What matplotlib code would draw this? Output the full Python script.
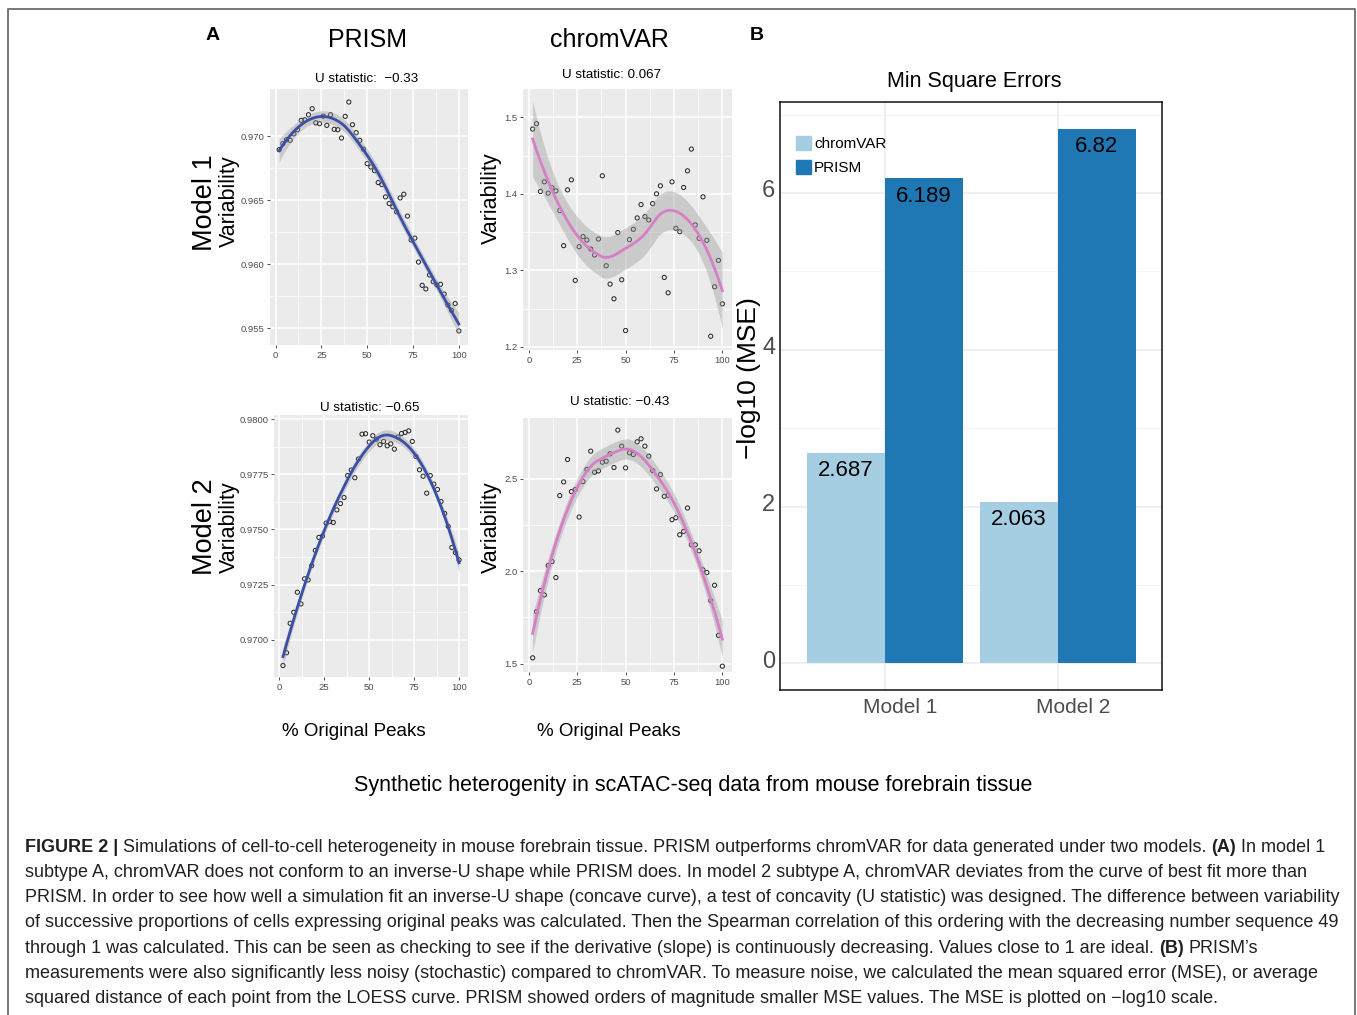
import numpy as np
import matplotlib
matplotlib.use('Agg')
from matplotlib import pyplot as plt
from matplotlib import ticker
from matplotlib.patches import Patch
from matplotlib.transforms import ScaledTranslation

# % original peaks (x) shared by all four simulation panels
pct = list(range(2, 101, 2))

prism_m1 = [0.96896, 0.96943, 0.96974, 0.96969, 0.97020, 0.97052, 0.97125, 0.97130,
            0.97169, 0.97216, 0.97106, 0.97099, 0.97158, 0.97086, 0.97169, 0.97055,
            0.97052, 0.96987, 0.97156, 0.97268, 0.97091, 0.97029, 0.96969, 0.96900,
            0.96787, 0.96761, 0.96732, 0.96639, 0.96623, 0.96527, 0.96475, 0.96450,
            0.96410, 0.96519, 0.96548, 0.96377, 0.96190, 0.96205, 0.96018, 0.95836,
            0.95808, 0.95917, 0.95865, 0.95839, 0.95844, 0.95768, 0.95683, 0.95640,
            0.95694, 0.95480]

chromvar_m1 = [1.4847, 1.4917, 1.4031, 1.4157, 1.4009, 1.4080, 1.4039, 1.3782,
               1.3323, 1.4052, 1.4183, 1.2869, 1.3310, 1.3441, 1.3397, 1.3279,
               1.3201, 1.3410, 1.4236, 1.3061, 1.2821, 1.2629, 1.3494, 1.2878,
               1.2214, 1.3402, 1.3537, 1.3686, 1.3860, 1.3703, 1.3659, 1.3873,
               1.4000, 1.4105, 1.2908, 1.2707, 1.4157, 1.3550, 1.3506, 1.4083,
               1.4301, 1.4585, 1.3594, 1.3419, 1.3961, 1.3393, 1.2140, 1.2786,
               1.3131, 1.2563]

prism_m2 = [0.96882, 0.96940, 0.97074, 0.97124, 0.97215, 0.97162, 0.97276, 0.97271,
            0.97336, 0.97405, 0.97464, 0.97470, 0.97529, 0.97536, 0.97532, 0.97589,
            0.97618, 0.97645, 0.97745, 0.97770, 0.97735, 0.97820, 0.97933, 0.97935,
            0.97897, 0.97926, 0.97910, 0.97885, 0.97900, 0.97880, 0.97889, 0.97865,
            0.97920, 0.97936, 0.97941, 0.97948, 0.97900, 0.97832, 0.97771, 0.97742,
            0.97665, 0.97745, 0.97706, 0.97682, 0.97627, 0.97573, 0.97514, 0.97418,
            0.97395, 0.97362]

chromvar_m2 = [1.5308, 1.7808, 1.8950, 1.8714, 2.0308, 2.0525, 1.9656, 2.4094,
               2.4837, 2.6050, 2.4312, 2.4420, 2.2935, 2.4855, 2.5507, 2.6504,
               2.5362, 2.5435, 2.5906, 2.5960, 2.6360, 2.5616, 2.7645, 2.6775,
               2.5598, 2.6413, 2.6322, 2.7011, 2.7174, 2.6775, 2.6232, 2.5453,
               2.4457, 2.5236, 2.4058, 2.4112, 2.2790, 2.2899, 2.1975, 2.2156,
               2.3424, 2.1431, 2.1431, 2.1105, 2.0072, 1.9928, 1.8406, 1.9240,
               1.6522, 1.4855]

# panel B
models = ['Model 1', 'Model 2']
mse_chromvar = [2.687, 2.063]
mse_prism = [6.189, 6.82]

W, H = 1357, 1015
plt.rcParams['font.family'] = ['Liberation Sans', 'DejaVu Sans']


def fx(x):
    return x / W


def fy(y):
    return 1 - y / H


def box(l, t, r, b):
    return [fx(l), fy(b), (r - l) / W, (b - t) / H]


def loess(x, y, span=0.75, n_out=100):
    # local quadratic fit with tricube weights, like R's loess default
    x = np.asarray(x, float)
    y = np.asarray(y, float)
    n = len(x)
    q = int(np.floor(n * span))

    def rows(x0s):
        out = []
        for x0 in x0s:
            d = np.abs(x - x0)
            h = np.sort(d)[q - 1]
            w = np.clip(1 - (d / h) ** 3, 0, None) ** 3
            X = np.column_stack([np.ones(n), x - x0, (x - x0) ** 2])
            A = X.T @ (w[:, None] * X)
            out.append(np.linalg.solve(A, X.T * w)[0])
        return np.array(out)

    Ld = rows(x)
    res = y - Ld @ y
    M = np.eye(n) - Ld
    sigma = np.sqrt(res @ res / np.trace(M.T @ M))
    xs = np.linspace(x.min(), x.max(), n_out)
    Lo = rows(xs)
    return xs, Lo @ y, sigma * np.sqrt((Lo ** 2).sum(1))


def sim_panel(rect, y, color, ylim, yticks, fmt):
    ax = fig.add_axes(rect)
    ax.set_facecolor('#ebebeb')
    xs, fit, se = loess(pct, y)
    ax.scatter(pct, y, s=9, facecolors='none', edgecolors='#222222',
               linewidths=0.7, zorder=3)
    ax.fill_between(xs, fit - 2.01 * se, fit + 2.01 * se, color='#999999',
                    alpha=0.4, lw=0, zorder=4)
    ax.plot(xs, fit, color=color, lw=2, zorder=5)
    ax.set_xlim(-3, 105)
    ax.set_ylim(*ylim)
    ax.set_xticks([0, 25, 50, 75, 100])
    ax.set_xticks([12.5, 37.5, 62.5, 87.5], minor=True)
    ax.set_yticks(yticks)
    ax.set_yticks([(a + b) / 2 for a, b in zip(yticks[:-1], yticks[1:])], minor=True)
    ax.yaxis.set_major_formatter(ticker.FormatStrFormatter(fmt))
    ax.grid(which='major', color='white', lw=1.1)
    ax.grid(which='minor', color='white', lw=0.5)
    ax.set_axisbelow(True)
    for s in ax.spines.values():
        s.set_visible(False)
    ax.tick_params(which='major', length=2.5, width=0.6, color='#333333',
                   labelsize=6.8, labelcolor='#4d4d4d', pad=1.5)
    ax.tick_params(which='minor', length=0)
    return ax


fig = plt.figure(figsize=(W / 100, H / 100), dpi=100)

# outer frame
fig.add_artist(plt.Line2D([fx(8), fx(8), fx(1355), fx(1355)],
                          [0, fy(9), fy(9), 0], color='#777777', lw=1.4))

blue = '#3a50a8'
pink = '#d67fc6'
sim_panel(box(270, 89, 468, 345), prism_m1, blue, (0.9537, 0.9737),
          [0.955, 0.960, 0.965, 0.970], '%.3f')
sim_panel(box(523, 89, 732, 350), chromvar_m1, pink, (1.196, 1.537),
          [1.2, 1.3, 1.4, 1.5], '%.1f')
sim_panel(box(274, 415, 468, 677), prism_m2, blue, (0.9683, 0.9802),
          [0.9700, 0.9725, 0.9750, 0.9775, 0.9800], '%.4f')
sim_panel(box(523, 418, 732, 672), chromvar_m2, pink, (1.454, 2.83),
          [1.5, 2.0, 2.5], '%.1f')


def label(x, y, s, size, **kw):
    fig.text(fx(x), fy(y), s, fontsize=size, ha='center', va='center', **kw)


label(367, 79, 'U statistic:  \u22120.33', 9.6)
label(612, 75, 'U statistic: 0.067', 9.6)
label(370, 408, 'U statistic: \u22120.65', 9.6)
label(620, 402, 'U statistic: \u22120.43', 9.6)

# panel A labels
label(213, 35, 'A', 14, fontweight='bold')
label(757, 35, 'B', 14, fontweight='bold')
label(368, 40, 'PRISM', 18)
label(609, 40, 'chromVAR', 18)
label(205, 203, 'Model 1', 19.5, rotation=90)
label(229, 201, 'Variability', 15.5, rotation=90)
label(205, 527, 'Model 2', 19.5, rotation=90)
label(229, 527, 'Variability', 15.5, rotation=90)
label(491, 198, 'Variability', 15.5, rotation=90)
label(491, 527, 'Variability', 15.5, rotation=90)
label(354, 732, '% Original Peaks', 13.5)
label(609, 732, '% Original Peaks', 13.5)
label(693, 785, 'Synthetic heterogenity in scATAC-seq data from mouse forebrain tissue', 15.5)
label(974, 82, 'Min Square Errors', 15.5)

# panel B: bars
axb = fig.add_axes(box(780, 102, 1162, 690))
xpos = np.arange(1, len(models) + 1)
wd = 0.45
b1 = axb.bar(xpos - wd / 2, mse_chromvar, wd, color='#a6cee3', label='chromVAR', zorder=2)
b2 = axb.bar(xpos + wd / 2, mse_prism, wd, color='#1f78b4', label='PRISM', zorder=2)
for bars, vals in ((b1, mse_chromvar), (b2, mse_prism)):
    for r, v in zip(bars, vals):
        axb.annotate(str(v), (r.get_x() + r.get_width() / 2, v), xytext=(0, -13),
                     textcoords='offset points', ha='center', va='center',
                     fontsize=16, zorder=3)
axb.set_xlim(0.393, 2.601)
axb.set_ylim(-0.341, 7.161)
axb.set_xticks(xpos)
axb.set_xticklabels(models)
axb.set_yticks([0, 2, 4, 6])
axb.set_yticks([1, 3, 5, 7], minor=True)
axb.grid(which='major', color='#ebebeb', lw=1.1)
axb.grid(which='minor', color='#f2f2f2', lw=0.6)
axb.set_axisbelow(True)
axb.tick_params(which='both', length=0, labelsize=17, labelcolor='#4d4d4d')
axb.tick_params(axis='x', labelsize=15, pad=6)
for lab in axb.get_yticklabels():
    lab.set_transform(lab.get_transform() + ScaledTranslation(0, 0.04, fig.dpi_scale_trans))
for lab in axb.get_xticklabels():
    lab.set_transform(lab.get_transform() + ScaledTranslation(0.15, 0, fig.dpi_scale_trans))
for s in axb.spines.values():
    s.set_color('#111111')
    s.set_linewidth(1.1)
axb.set_ylabel('\u2212log10 (MSE)', fontsize=19)
axb.yaxis.set_label_coords(-0.05, 0.531)
axb.legend(handles=[Patch(color='#a6cee3', label='chromVAR'), Patch(color='#1f78b4', label='PRISM')],
           loc='upper left', bbox_to_anchor=(0.025, 0.953), frameon=False,
           handlelength=1.0, handleheight=1.1, handletextpad=0.2, labelspacing=0.55,
           borderaxespad=0, prop={'size': 11})

# caption, drawn line by line so bold pieces can sit inline
caption = [
    [('FIGURE 2 |', True), ('Simulations of cell-to-cell heterogeneity in mouse forebrain tissue. PRISM outperforms chromVAR for data generated under two models.', False), ('(A)', True), ('In model 1', False)],
    [('subtype A, chromVAR does not conform to an inverse-U shape while PRISM does. In model 2 subtype A, chromVAR deviates from the curve of best fit more than', False)],
    [('PRISM. In order to see how well a simulation fit an inverse-U shape (concave curve), a test of concavity (U statistic) was designed. The difference between variability', False)],
    [('of successive proportions of cells expressing original peaks was calculated. Then the Spearman correlation of this ordering with the decreasing number sequence 49', False)],
    [('through 1 was calculated. This can be seen as checking to see if the derivative (slope) is continuously decreasing. Values close to 1 are ideal.', False), ('(B)', True), ('PRISM\u2019s', False)],
    [('measurements were also significantly less noisy (stochastic) compared to chromVAR. To measure noise, we calculated the mean squared error (MSE), or average', False)],
    [('squared distance of each point from the LOESS curve. PRISM showed orders of magnitude smaller MSE values. The MSE is plotted on \u2212log10 scale.', False)],
]
cap_size = 13.0
cap_color = '#231f20'
renderer = fig.canvas.get_renderer()
probe = fig.text(0, 0, 'a a', fontsize=cap_size)
w2 = probe.get_window_extent(renderer).width
probe.set_text('aa')
space = w2 - probe.get_window_extent(renderer).width
probe.remove()
for i, line in enumerate(caption):
    x = 25
    y = 847 + i * 25.3
    for txt, bold in line:
        t = fig.text(fx(x), fy(y), txt, fontsize=cap_size, color=cap_color,
                     fontweight='bold' if bold else 'normal', ha='left', va='center')
        x += t.get_window_extent(renderer).width + space

fig.savefig('out.png', dpi=100)
